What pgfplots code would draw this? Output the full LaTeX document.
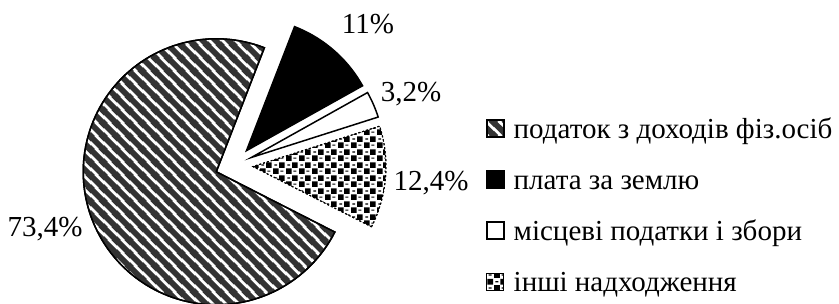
\documentclass[border=0pt]{standalone}
\usepackage{pgfplots}
\pgfplotsset{compat=1.18}
\usepackage{fontspec}
\setmainfont{Liberation Serif}
\usetikzlibrary{patterns.meta}

\tikzdeclarepattern{
  name=checkconf,
  type=uncolored,
  bottom left={(0bp,0bp)}, top right={(13bp,13bp)}, tile size={(13bp,13bp)},
  code={
    \fill (0bp,0bp) rectangle (6bp,6bp);
    \fill (6.5bp,6.5bp) rectangle (12.5bp,12.5bp);
    \fill (8bp,2.5bp) rectangle (11bp,3.7bp);
    \fill (1.5bp,9bp) rectangle (4.5bp,10.2bp);
  }
}
\tikzdeclarepattern{
  name=widestripes,
  type=uncolored,
  bottom left={(0bp,0bp)}, top right={(13bp,13bp)}, tile size={(13bp,13bp)},
  code={
    \draw[line width=6bp] (-5bp,5bp) -- (5bp,-5bp);
    \draw[line width=6bp] (-1bp,14bp) -- (14bp,-1bp);
    \draw[line width=6bp] (8bp,18bp) -- (18bp,8bp);
  }
}

% shares (per cent)
\def\vA{73.4}% податок з доходів фіз.осіб
\def\vB{11}%   плата за землю
\def\vC{3.2}%  місцеві податки і збори
\def\vD{12.4}% інші надходження
\def\startang{68.8}
\pgfmathsetmacro\aB{\startang-3.6*\vB}
\pgfmathsetmacro\aC{\aB-3.6*\vC}
\pgfmathsetmacro\aD{\aC-3.6*\vD}
\pgfmathsetmacro\aA{\aD-3.6*\vA}

\newcommand\pieslice[3]{%
  \pgfmathsetmacro\pmid{(#1+#2)/2}%
  \pgfmathsetmacro\pox{234+19*cos(\pmid)}%
  \pgfmathsetmacro\poy{139+19*sin(\pmid)}%
  \edef\pcmd{\noexpand\addplot[\unexpanded{#3}, domain=#1:#2, samples=120, variable=\noexpand\t] ({\pox+133*cos(\noexpand\t)},{\poy+133*sin(\noexpand\t)}) -- (axis cs:\pox,\poy) -- cycle;}%
  \pcmd}

\newcommand\bigfont{\fontsize{29bp}{34bp}\selectfont}

\begin{document}
\begin{tikzpicture}
\begin{axis}[
  width=839bp, height=304bp, scale only axis,
  xmin=0, xmax=839, ymin=0, ymax=304,
  axis line style={draw=none}, ticks=none,
  clip=true,
  legend image code/.code={\draw[#1, solid] (0bp,-6bp) rectangle (17bp,11bp);},
  legend style={at={(486/839,187/304)}, anchor=north west, draw=none, fill=none,
    inner sep=0pt, row sep=23bp, column sep=9bp, font=\bigfont,
    nodes={inner sep=0pt, text height=21bp, text depth=7bp}},
  legend cell align=left,
]
\pieslice{\aA}{\aD}{draw=black, line width=1.5bp, fill=white, postaction={pattern=widestripes, pattern color=black!80}}
\addlegendentry{податок з доходів фіз.осіб}
\pieslice{\aB}{\startang}{draw=black, line width=1.5bp, fill=black}
\addlegendentry{плата за землю}
\pieslice{\aC}{\aB}{draw=black, line width=1.5bp, fill=white}
\addlegendentry{місцеві податки і збори}
\pieslice{\aD}{\aC}{draw=black, line width=1bp, dash pattern=on 2bp off 2bp, fill=white, postaction={pattern=checkconf, pattern color=black}}
\addlegendentry{інші надходження}

\node[anchor=base, font=\bigfont] at (axis cs:368,270) {11\%};
\node[anchor=base, font=\bigfont] at (axis cs:411,202) {3,2\%};
\node[anchor=base, font=\bigfont] at (axis cs:431,113) {12,4\%};
\node[anchor=base, font=\bigfont] at (axis cs:45,67) {73,4\%};
\end{axis}
\end{tikzpicture}
\end{document}
